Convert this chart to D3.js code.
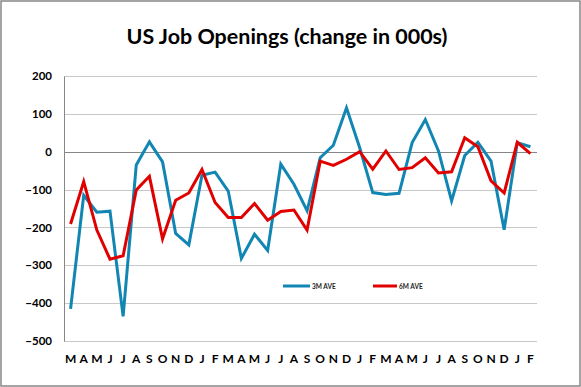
<!DOCTYPE html>
<html><head><meta charset="utf-8">
<script src="https://cdn.jsdelivr.net/npm/d3@7/dist/d3.min.js"></script>
<style>body{margin:0;background:#fff;} svg{display:block;font-family:Lato,"Open Sans",sans-serif;}</style>
</head><body><svg id="c" width="581" height="387"></svg>
<script>
const months = ["M","A","M","J","J","A","S","O","N","D","J","F","M","A","M","J","J","A","S","O","N","D","J","F","M","A","M","J","J","A","S","O","N","D","J","F"];
const ave3m = [-415,-115,-160,-157,-435,-35,26,-27,-216,-246,-62,-54,-104,-282,-218,-261,-33,-86,-156,-16,17,116,11,-108,-113,-110,24,85,2,-130,-10,25,-25,-206,24,13];
const ave6m = [-191,-79,-207,-284,-275,-101,-65,-230,-128,-109,-47,-134,-174,-174,-137,-181,-158,-154,-207,-25,-36,-20,0,-46,2,-47,-42,-16,-56,-53,37,13,-77,-109,25,-5];
const yTicks = [200,100,0,-100,-200,-300,-400,-500];
const seriesNames = ["3M AVE","6M AVE"];
const colors = ["#1286b3","#e00000"];

const svg = d3.select("#c");
const L = 64, R = 537, T = 76, B = 341;
svg.append("rect").attr("x",1).attr("y",1).attr("width",579).attr("height",385)
  .attr("fill","#fff").attr("stroke","#868686").attr("stroke-width",1.5);

const x = d3.scaleBand().domain(d3.range(months.length)).range([L,R]);
const y = d3.scaleLinear().domain([-500,200]).range([B,T]);

const title = svg.append("text").attr("x",287).attr("y",44).attr("text-anchor","middle")
  .attr("font-size",20).attr("font-weight","bold").attr("fill","#000").text("US Job Openings (change in 000s)");
const tw = title.node().getComputedTextLength();
title.attr("font-size", 20*321/tw);

// gridlines
svg.append("g").selectAll("line").data(yTicks).join("line")
  .attr("x1",L).attr("x2",R).attr("y1",d=>Math.round(y(d))+0.5).attr("y2",d=>Math.round(y(d))+0.5)
  .attr("stroke",d=>d===0?"#868686":"#c8c8c8").attr("stroke-width",1);

// y axis
const ya = d3.axisLeft(y).tickValues(yTicks).tickSize(0).tickPadding(12);
const gy = svg.append("g").attr("transform",`translate(${L},0)`).call(ya);
gy.select(".domain").attr("stroke","#868686");
gy.selectAll("text").attr("font-size",11.5).attr("font-weight","bold").attr("fill","#000")
  .attr("font-family","Lato,sans-serif");

// x axis labels
const xa = d3.axisBottom(x).tickFormat(i=>months[i]).tickSize(0).tickPadding(0);
const gx = svg.append("g").attr("transform",`translate(0,354)`).call(xa);
gx.select(".domain").remove();
gx.selectAll("text").attr("font-size",12).attr("font-weight","bold").attr("fill","#000")
  .attr("dy","0.71em").attr("font-family","Lato,sans-serif");

const line = d3.line().x((d,i)=>x(i)+x.bandwidth()/2).y(d=>y(d));
[ave3m,ave6m].forEach((s,k)=>{
  svg.append("path").datum(s).attr("d",line).attr("fill","none")
    .attr("stroke",colors[k]).attr("stroke-width",3).attr("stroke-linejoin","miter");
});

// legend
const leg = [{x1:283,x2:310},{x1:373,x2:397}];
seriesNames.forEach((n,k)=>{
  svg.append("line").attr("x1",leg[k].x1).attr("x2",leg[k].x2).attr("y1",286).attr("y2",286)
    .attr("stroke",colors[k]).attr("stroke-width",3);
  svg.append("text").attr("x",leg[k].x2+2).attr("y",288.5).attr("font-size",6.5).attr("font-weight","bold")
    .attr("fill","#222").text(n);
});
</script></body></html>
